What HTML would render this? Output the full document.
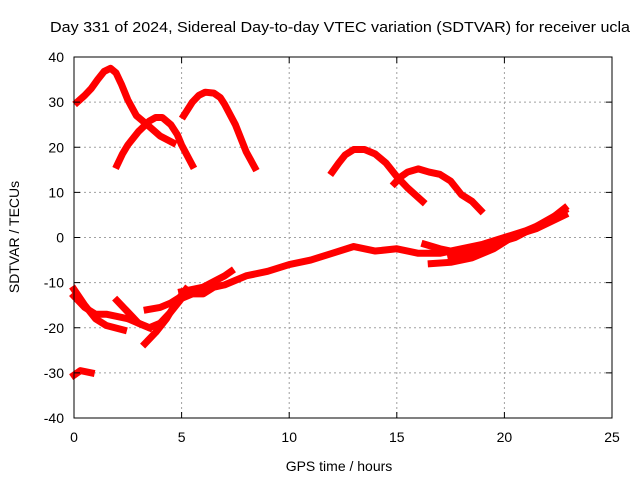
<!DOCTYPE html>
<html><head><meta charset="utf-8"><style>
body{margin:0;background:#fff;}
svg{display:block;font-family:"Liberation Sans",sans-serif;}
</style></head><body>
<svg id="chart" width="640" height="480">
<text x="50" y="32" font-size="15" textLength="580" lengthAdjust="spacingAndGlyphs">Day 331 of 2024, Sidereal Day-to-day VTEC variation (SDTVAR) for receiver ucla</text>
<text x="339" y="471" font-size="14" text-anchor="middle">GPS time / hours</text>
<text transform="translate(19,237) rotate(-90)" font-size="14" text-anchor="middle">SDTVAR / TECUs</text>
<g id="grid"></g><g id="marks"></g><g id="axes"></g>
</svg>
<script>
const xTicks=[0,5,10,15,20,25];
const yTicks=[-40,-30,-20,-10,0,10,20,30,40];
const trackA=[[0.15,30],[0.5,31.5],[0.8,33],[1.1,35],[1.4,36.8],[1.7,37.5],[1.95,36.5],[2.2,34],[2.5,30.5],[2.9,27],[3.4,25],[4,22.5],[4.6,21]];
const trackB=[[2,16],[2.25,18.5],[2.5,20.5],[3,23.5],[3.5,25.8],[3.8,26.6],[4.1,26.6],[4.5,25],[4.8,22.8],[5,20.5],[5.5,16]];
const trackC=[[5.1,27],[5.5,30],[5.8,31.5],[6.1,32.2],[6.5,32],[6.8,31],[7,29.5],[7.5,25],[8,19],[8.4,15.5]];
const trackD=[[12,14.5],[12.3,16.5],[12.6,18.3],[13,19.5],[13.5,19.5],[14,18.5],[14.5,16.5],[15,13.5],[15.5,11],[16.2,8]];
const trackE=[[14.9,12],[15.2,13.5],[15.5,14.5],[16,15.2],[16.5,14.5],[17,14],[17.5,12.5],[18,9.5],[18.5,8],[18.9,6]];
const trackF=[[0,-30.5],[0.3,-29.5],[0.8,-30]];
const bandMain=[[0,-13],[0.5,-15.5],[1,-17],[1.5,-17],[2,-17.5],[2.5,-18],[3,-19],[3.5,-20],[4,-19],[4.5,-16.5],[5,-13.5],[5.5,-12.5],[6,-12.5],[6.5,-11],[7,-10.5],[8,-8.5],[9,-7.5],[10,-6],[11,-5],[12,-3.5],[13,-2],[14,-3],[15,-2.5],[16,-3.5],[17,-3.5],[18,-2.5],[19,-1.5],[20,0],[21,1.5],[22,3.5],[22.8,6.5]];
const branch1=[[0,-11.5],[0.5,-15],[1,-18],[1.5,-19.5],[2.3,-20.5]];
const branch2=[[2,-14],[2.5,-16.5],[3,-19],[3.5,-20]];
const branch3=[[3.3,-23.5],[3.8,-21],[4.3,-18],[4.8,-14],[5.2,-11.5]];
const branch4=[[3.4,-16],[4,-15.5],[4.5,-14.5],[5,-13]];
const branch5=[[5,-12],[6,-11],[7,-8.5],[7.3,-7.5]];
const branch6=[[16.6,-5.8],[17.5,-5.5],[18.5,-4.5],[19.5,-2.5],[20.5,0.5],[21.5,2],[22.8,5]];
const branch7=[[16.3,-1.5],[17,-2.5],[18,-3.5],[19,-2]];
const branch8=[[17.5,-4],[18.5,-3],[19.5,-1.5],[20.5,0],[21.5,2.5],[22.8,6]];
const tracks=[trackA,trackB,trackC,trackD,trackE,trackF,bandMain,branch1,branch2,branch3,branch4,branch5,branch6,branch7,branch8];
const X0=74,X1=612,Y0=418,Y1=57;
const sx=v=>X0+(v-0)/25*(X1-X0);
const sy=v=>Y0-(v+40)/80*(Y0-Y1);
const NS="http://www.w3.org/2000/svg";
const grid=document.getElementById('grid'),axes=document.getElementById('axes'),marks=document.getElementById('marks');
function mk(tag,attrs,parent){const e=document.createElementNS(NS,tag);for(const k in attrs)e.setAttribute(k,attrs[k]);parent.appendChild(e);return e;}
xTicks.forEach(t=>{const x=sx(t);
 if(t>0&&t<25){const g=mk('line',{x1:x,x2:x,y1:Y1,y2:Y0,stroke:'#a0a0a0','stroke-dasharray':'2,3'},grid);
 
 }
 mk('line',{x1:x,x2:x,y1:Y0,y2:Y0-6,stroke:'#000'},axes);
 mk('line',{x1:x,x2:x,y1:Y1,y2:Y1+6,stroke:'#000'},axes);
 const l=mk('text',{x:x,y:Y0+24,'font-size':14,'text-anchor':'middle'},axes);l.textContent=t;
 
 });
yTicks.forEach(t=>{const y=sy(t);
 if(t>-40&&t<40){const g=mk('line',{x1:X0,x2:X1,y1:y,y2:y,stroke:'#a0a0a0','stroke-dasharray':'2,3'},grid);
 
 }
 mk('line',{x1:X0,x2:X0+6,y1:y,y2:y,stroke:'#000'},axes);
 mk('line',{x1:X1,x2:X1-6,y1:y,y2:y,stroke:'#000'},axes);
 const l=mk('text',{x:X0-10,y:y+5,'font-size':14,'text-anchor':'end'},axes);l.textContent=t;
 
 });
const fr=mk('rect',{x:X0,y:Y1,width:X1-X0,height:Y0-Y1,fill:'none',stroke:'#000'},axes);


tracks.forEach(tr=>{const p=mk('polyline',{points:tr.map(d=>sx(d[0])+','+sy(d[1])).join(' '),fill:'none',stroke:'#ff0000','stroke-width':7,'stroke-linejoin':'round','stroke-linecap':'square'},marks);
 
 });
</script>
</body></html>
